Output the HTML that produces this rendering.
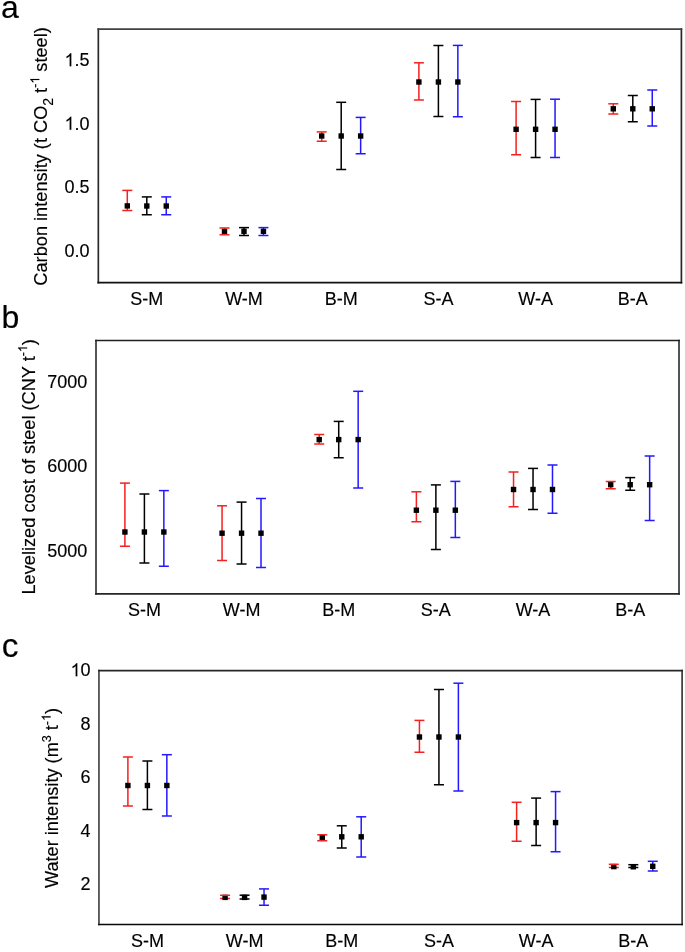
<!DOCTYPE html>
<html><head><meta charset="utf-8"><style>
html,body{margin:0;padding:0;background:#fff;width:685px;height:952px;overflow:hidden}
svg{display:block}
#w{will-change:transform}
.t{font-family:"Liberation Sans",sans-serif;font-size:18px;fill:#000;stroke:#000;stroke-width:0.15px}
.L{font-family:"Liberation Sans",sans-serif;font-size:32px;fill:#000;stroke:#000;stroke-width:0.15px}
.T{font-family:"Liberation Sans",sans-serif;font-size:18.2px;fill:#000;stroke:#000;stroke-width:0.15px}
.sub{font-size:14px}.sup{font-size:12.5px}
.o1{fill:none;stroke:none}
</style></head><body>
<div id="w"><svg width="685" height="952" viewBox="0 0 685 952">
<rect width="685" height="952" fill="#fff"/>
<path d="M98.33 28.25V283.45" stroke="#2a2a2a" stroke-width="1.7"/>
<path d="M681.40 28.25V283.45" stroke="#272727" stroke-width="1.7"/>
<path d="M97.48 29.10H682.25" stroke="#414141" stroke-width="1.7"/>
<path d="M97.48 282.60H682.25" stroke="#111111" stroke-width="1.7"/>
<path d="M127.30 190.40V210.50M122.30 210.50H132.30" stroke="#f52020" stroke-width="1.5" fill="none"/>
<path d="M146.80 196.90V214.70M141.80 214.70H151.80" stroke="#000000" stroke-width="1.5" fill="none"/>
<path d="M166.25 196.90V214.70M161.25 214.70H171.25" stroke="#2418ff" stroke-width="1.5" fill="none"/>
<text x="146.80" y="305.10" text-anchor="middle" class="t">S-M</text>
<path d="M224.50 228.00V234.70M219.50 234.70H229.50" stroke="#f52020" stroke-width="1.5" fill="none"/>
<path d="M244.00 227.60V235.40M239.00 235.40H249.00" stroke="#000000" stroke-width="1.5" fill="none"/>
<path d="M263.45 227.60V235.40M258.45 235.40H268.45" stroke="#2418ff" stroke-width="1.5" fill="none"/>
<text x="244.00" y="305.10" text-anchor="middle" class="t">W-M</text>
<path d="M321.70 131.90V141.30M316.70 141.30H326.70" stroke="#f52020" stroke-width="1.5" fill="none"/>
<path d="M341.20 102.30V169.50M336.20 169.50H346.20" stroke="#000000" stroke-width="1.5" fill="none"/>
<path d="M360.65 117.40V153.70M355.65 153.70H365.65" stroke="#2418ff" stroke-width="1.5" fill="none"/>
<text x="341.20" y="305.10" text-anchor="middle" class="t">B-M</text>
<path d="M418.90 62.80V100.10M413.90 100.10H423.90" stroke="#f52020" stroke-width="1.5" fill="none"/>
<path d="M438.40 45.50V116.50M433.40 116.50H443.40" stroke="#000000" stroke-width="1.5" fill="none"/>
<path d="M457.85 45.40V116.70M452.85 116.70H462.85" stroke="#2418ff" stroke-width="1.5" fill="none"/>
<text x="438.40" y="305.10" text-anchor="middle" class="t">S-A</text>
<path d="M516.10 101.50V154.70M511.10 154.70H521.10" stroke="#f52020" stroke-width="1.5" fill="none"/>
<path d="M535.60 99.40V157.40M530.60 157.40H540.60" stroke="#000000" stroke-width="1.5" fill="none"/>
<path d="M555.05 99.20V157.60M550.05 157.60H560.05" stroke="#2418ff" stroke-width="1.5" fill="none"/>
<text x="535.60" y="305.10" text-anchor="middle" class="t">W-A</text>
<path d="M613.30 103.80V114.00M608.30 114.00H618.30" stroke="#f52020" stroke-width="1.5" fill="none"/>
<path d="M632.80 95.50V121.70M627.80 121.70H637.80" stroke="#000000" stroke-width="1.5" fill="none"/>
<path d="M652.25 90.00V126.00M647.25 126.00H657.25" stroke="#2418ff" stroke-width="1.5" fill="none"/>
<text x="632.80" y="305.10" text-anchor="middle" class="t">B-A</text>
<rect x="124.60" y="203.20" width="5.4" height="5.4" fill="#000"/>
<rect x="144.10" y="203.30" width="5.4" height="5.4" fill="#000"/>
<rect x="163.55" y="203.30" width="5.4" height="5.4" fill="#000"/>
<rect x="221.80" y="228.60" width="5.4" height="5.4" fill="#000"/>
<rect x="241.30" y="228.60" width="5.4" height="5.4" fill="#000"/>
<rect x="260.75" y="228.60" width="5.4" height="5.4" fill="#000"/>
<rect x="319.00" y="133.30" width="5.4" height="5.4" fill="#000"/>
<rect x="338.50" y="133.30" width="5.4" height="5.4" fill="#000"/>
<rect x="357.95" y="133.30" width="5.4" height="5.4" fill="#000"/>
<rect x="416.20" y="79.30" width="5.4" height="5.4" fill="#000"/>
<rect x="435.70" y="79.30" width="5.4" height="5.4" fill="#000"/>
<rect x="455.15" y="79.30" width="5.4" height="5.4" fill="#000"/>
<rect x="513.40" y="126.60" width="5.4" height="5.4" fill="#000"/>
<rect x="532.90" y="126.60" width="5.4" height="5.4" fill="#000"/>
<rect x="552.35" y="126.60" width="5.4" height="5.4" fill="#000"/>
<rect x="610.60" y="106.10" width="5.4" height="5.4" fill="#000"/>
<rect x="630.10" y="106.10" width="5.4" height="5.4" fill="#000"/>
<rect x="649.55" y="106.10" width="5.4" height="5.4" fill="#000"/>
<path d="M122.30 190.40H132.30" stroke="#f52020" stroke-width="1.5"/>
<path d="M141.80 196.90H151.80" stroke="#000000" stroke-width="1.5"/>
<path d="M161.25 196.90H171.25" stroke="#2418ff" stroke-width="1.5"/>
<path d="M219.50 228.00H229.50" stroke="#f52020" stroke-width="1.5"/>
<path d="M239.00 227.60H249.00" stroke="#000000" stroke-width="1.5"/>
<path d="M258.45 227.60H268.45" stroke="#2418ff" stroke-width="1.5"/>
<path d="M316.70 131.90H326.70" stroke="#f52020" stroke-width="1.5"/>
<path d="M336.20 102.30H346.20" stroke="#000000" stroke-width="1.5"/>
<path d="M355.65 117.40H365.65" stroke="#2418ff" stroke-width="1.5"/>
<path d="M413.90 62.80H423.90" stroke="#f52020" stroke-width="1.5"/>
<path d="M433.40 45.50H443.40" stroke="#000000" stroke-width="1.5"/>
<path d="M452.85 45.40H462.85" stroke="#2418ff" stroke-width="1.5"/>
<path d="M511.10 101.50H521.10" stroke="#f52020" stroke-width="1.5"/>
<path d="M530.60 99.40H540.60" stroke="#000000" stroke-width="1.5"/>
<path d="M550.05 99.20H560.05" stroke="#2418ff" stroke-width="1.5"/>
<path d="M608.30 103.80H618.30" stroke="#f52020" stroke-width="1.5"/>
<path d="M627.80 95.50H637.80" stroke="#000000" stroke-width="1.5"/>
<path d="M647.25 90.00H657.25" stroke="#2418ff" stroke-width="1.5"/>
<path d="M96.00 339.65V594.65" stroke="#383838" stroke-width="1.7"/>
<path d="M679.00 339.65V594.65" stroke="#363636" stroke-width="1.7"/>
<path d="M95.15 340.50H679.85" stroke="#202020" stroke-width="1.7"/>
<path d="M95.15 593.80H679.85" stroke="#252525" stroke-width="1.7"/>
<path d="M124.90 483.10V546.20M119.90 546.20H129.90" stroke="#f52020" stroke-width="1.5" fill="none"/>
<path d="M144.40 494.00V563.00M139.40 563.00H149.40" stroke="#000000" stroke-width="1.5" fill="none"/>
<path d="M163.85 490.60V566.20M158.85 566.20H168.85" stroke="#2418ff" stroke-width="1.5" fill="none"/>
<text x="144.40" y="616.30" text-anchor="middle" class="t">S-M</text>
<path d="M222.06 505.80V560.40M217.06 560.40H227.06" stroke="#f52020" stroke-width="1.5" fill="none"/>
<path d="M241.56 502.10V563.90M236.56 563.90H246.56" stroke="#000000" stroke-width="1.5" fill="none"/>
<path d="M261.01 498.50V567.40M256.01 567.40H266.01" stroke="#2418ff" stroke-width="1.5" fill="none"/>
<text x="241.56" y="616.30" text-anchor="middle" class="t">W-M</text>
<path d="M319.22 434.50V444.10M314.22 444.10H324.22" stroke="#f52020" stroke-width="1.5" fill="none"/>
<path d="M338.72 421.40V457.80M333.72 457.80H343.72" stroke="#000000" stroke-width="1.5" fill="none"/>
<path d="M358.17 391.30V488.10M353.17 488.10H363.17" stroke="#2418ff" stroke-width="1.5" fill="none"/>
<text x="338.72" y="616.30" text-anchor="middle" class="t">B-M</text>
<path d="M416.38 491.80V521.80M411.38 521.80H421.38" stroke="#f52020" stroke-width="1.5" fill="none"/>
<path d="M435.88 484.90V549.60M430.88 549.60H440.88" stroke="#000000" stroke-width="1.5" fill="none"/>
<path d="M455.33 481.40V537.60M450.33 537.60H460.33" stroke="#2418ff" stroke-width="1.5" fill="none"/>
<text x="435.88" y="616.30" text-anchor="middle" class="t">S-A</text>
<path d="M513.54 472.00V506.70M508.54 506.70H518.54" stroke="#f52020" stroke-width="1.5" fill="none"/>
<path d="M533.04 468.40V509.50M528.04 509.50H538.04" stroke="#000000" stroke-width="1.5" fill="none"/>
<path d="M552.49 465.00V513.20M547.49 513.20H557.49" stroke="#2418ff" stroke-width="1.5" fill="none"/>
<text x="533.04" y="616.30" text-anchor="middle" class="t">W-A</text>
<path d="M610.70 481.50V488.70M605.70 488.70H615.70" stroke="#f52020" stroke-width="1.5" fill="none"/>
<path d="M630.20 477.60V490.20M625.20 490.20H635.20" stroke="#000000" stroke-width="1.5" fill="none"/>
<path d="M649.65 456.00V520.60M644.65 520.60H654.65" stroke="#2418ff" stroke-width="1.5" fill="none"/>
<text x="630.20" y="616.30" text-anchor="middle" class="t">B-A</text>
<rect x="122.20" y="529.30" width="5.4" height="5.4" fill="#000"/>
<rect x="141.70" y="529.30" width="5.4" height="5.4" fill="#000"/>
<rect x="161.15" y="529.30" width="5.4" height="5.4" fill="#000"/>
<rect x="219.36" y="530.50" width="5.4" height="5.4" fill="#000"/>
<rect x="238.86" y="530.50" width="5.4" height="5.4" fill="#000"/>
<rect x="258.31" y="530.50" width="5.4" height="5.4" fill="#000"/>
<rect x="316.52" y="436.90" width="5.4" height="5.4" fill="#000"/>
<rect x="336.02" y="436.90" width="5.4" height="5.4" fill="#000"/>
<rect x="355.47" y="436.90" width="5.4" height="5.4" fill="#000"/>
<rect x="413.68" y="507.50" width="5.4" height="5.4" fill="#000"/>
<rect x="433.18" y="507.50" width="5.4" height="5.4" fill="#000"/>
<rect x="452.63" y="507.50" width="5.4" height="5.4" fill="#000"/>
<rect x="510.84" y="486.80" width="5.4" height="5.4" fill="#000"/>
<rect x="530.34" y="486.80" width="5.4" height="5.4" fill="#000"/>
<rect x="549.79" y="486.80" width="5.4" height="5.4" fill="#000"/>
<rect x="608.00" y="482.00" width="5.4" height="5.4" fill="#000"/>
<rect x="627.50" y="482.00" width="5.4" height="5.4" fill="#000"/>
<rect x="646.95" y="482.00" width="5.4" height="5.4" fill="#000"/>
<path d="M119.90 483.10H129.90" stroke="#f52020" stroke-width="1.5"/>
<path d="M139.40 494.00H149.40" stroke="#000000" stroke-width="1.5"/>
<path d="M158.85 490.60H168.85" stroke="#2418ff" stroke-width="1.5"/>
<path d="M217.06 505.80H227.06" stroke="#f52020" stroke-width="1.5"/>
<path d="M236.56 502.10H246.56" stroke="#000000" stroke-width="1.5"/>
<path d="M256.01 498.50H266.01" stroke="#2418ff" stroke-width="1.5"/>
<path d="M314.22 434.50H324.22" stroke="#f52020" stroke-width="1.5"/>
<path d="M333.72 421.40H343.72" stroke="#000000" stroke-width="1.5"/>
<path d="M353.17 391.30H363.17" stroke="#2418ff" stroke-width="1.5"/>
<path d="M411.38 491.80H421.38" stroke="#f52020" stroke-width="1.5"/>
<path d="M430.88 484.90H440.88" stroke="#000000" stroke-width="1.5"/>
<path d="M450.33 481.40H460.33" stroke="#2418ff" stroke-width="1.5"/>
<path d="M508.54 472.00H518.54" stroke="#f52020" stroke-width="1.5"/>
<path d="M528.04 468.40H538.04" stroke="#000000" stroke-width="1.5"/>
<path d="M547.49 465.00H557.49" stroke="#2418ff" stroke-width="1.5"/>
<path d="M605.70 481.50H615.70" stroke="#f52020" stroke-width="1.5"/>
<path d="M625.20 477.60H635.20" stroke="#000000" stroke-width="1.5"/>
<path d="M644.65 456.00H654.65" stroke="#2418ff" stroke-width="1.5"/>
<path d="M98.95 669.70V925.35" stroke="#474747" stroke-width="1.7"/>
<path d="M682.10 669.70V925.35" stroke="#3a3a3a" stroke-width="1.7"/>
<path d="M98.10 670.55H682.95" stroke="#262626" stroke-width="1.7"/>
<path d="M98.10 924.50H682.95" stroke="#080808" stroke-width="1.7"/>
<path d="M127.90 757.00V806.10M122.90 806.10H132.90" stroke="#f52020" stroke-width="1.5" fill="none"/>
<path d="M147.40 761.00V809.50M142.40 809.50H152.40" stroke="#000000" stroke-width="1.5" fill="none"/>
<path d="M166.85 754.70V815.90M161.85 815.90H171.85" stroke="#2418ff" stroke-width="1.5" fill="none"/>
<text x="147.40" y="947.00" text-anchor="middle" class="t">S-M</text>
<path d="M225.08 895.30V898.60M220.08 898.60H230.08" stroke="#f52020" stroke-width="1.5" fill="none"/>
<path d="M244.58 895.20V899.05M239.58 899.05H249.58" stroke="#000000" stroke-width="1.5" fill="none"/>
<path d="M264.03 888.90V905.30M259.03 905.30H269.03" stroke="#2418ff" stroke-width="1.5" fill="none"/>
<text x="244.58" y="947.00" text-anchor="middle" class="t">W-M</text>
<path d="M322.26 834.80V840.80M317.26 840.80H327.26" stroke="#f52020" stroke-width="1.5" fill="none"/>
<path d="M341.76 825.80V847.90M336.76 847.90H346.76" stroke="#000000" stroke-width="1.5" fill="none"/>
<path d="M361.21 816.80V857.10M356.21 857.10H366.21" stroke="#2418ff" stroke-width="1.5" fill="none"/>
<text x="341.76" y="947.00" text-anchor="middle" class="t">B-M</text>
<path d="M419.44 720.40V752.30M414.44 752.30H424.44" stroke="#f52020" stroke-width="1.5" fill="none"/>
<path d="M438.94 689.50V784.70M433.94 784.70H443.94" stroke="#000000" stroke-width="1.5" fill="none"/>
<path d="M458.39 683.20V791.00M453.39 791.00H463.39" stroke="#2418ff" stroke-width="1.5" fill="none"/>
<text x="438.94" y="947.00" text-anchor="middle" class="t">S-A</text>
<path d="M516.62 802.30V841.30M511.62 841.30H521.62" stroke="#f52020" stroke-width="1.5" fill="none"/>
<path d="M536.12 798.10V845.50M531.12 845.50H541.12" stroke="#000000" stroke-width="1.5" fill="none"/>
<path d="M555.57 791.60V851.80M550.57 851.80H560.57" stroke="#2418ff" stroke-width="1.5" fill="none"/>
<text x="536.12" y="947.00" text-anchor="middle" class="t">W-A</text>
<path d="M613.80 864.30V867.50M608.80 867.50H618.80" stroke="#f52020" stroke-width="1.5" fill="none"/>
<path d="M633.30 864.70V867.60M628.30 867.60H638.30" stroke="#000000" stroke-width="1.5" fill="none"/>
<path d="M652.75 861.30V871.10M647.75 871.10H657.75" stroke="#2418ff" stroke-width="1.5" fill="none"/>
<text x="633.30" y="947.00" text-anchor="middle" class="t">B-A</text>
<rect x="125.20" y="782.80" width="5.4" height="5.4" fill="#000"/>
<rect x="144.70" y="782.80" width="5.4" height="5.4" fill="#000"/>
<rect x="164.15" y="782.80" width="5.4" height="5.4" fill="#000"/>
<rect x="222.38" y="894.70" width="5.4" height="5.4" fill="#000"/>
<rect x="241.88" y="894.70" width="5.4" height="5.4" fill="#000"/>
<rect x="261.33" y="894.40" width="5.4" height="5.4" fill="#000"/>
<rect x="319.56" y="834.60" width="5.4" height="5.4" fill="#000"/>
<rect x="339.06" y="834.10" width="5.4" height="5.4" fill="#000"/>
<rect x="358.51" y="834.10" width="5.4" height="5.4" fill="#000"/>
<rect x="416.74" y="734.30" width="5.4" height="5.4" fill="#000"/>
<rect x="436.24" y="734.30" width="5.4" height="5.4" fill="#000"/>
<rect x="455.69" y="734.30" width="5.4" height="5.4" fill="#000"/>
<rect x="513.92" y="819.90" width="5.4" height="5.4" fill="#000"/>
<rect x="533.42" y="819.90" width="5.4" height="5.4" fill="#000"/>
<rect x="552.87" y="819.90" width="5.4" height="5.4" fill="#000"/>
<rect x="611.10" y="863.90" width="5.4" height="5.4" fill="#000"/>
<rect x="630.60" y="864.10" width="5.4" height="5.4" fill="#000"/>
<rect x="650.05" y="863.60" width="5.4" height="5.4" fill="#000"/>
<path d="M122.90 757.00H132.90" stroke="#f52020" stroke-width="1.5"/>
<path d="M142.40 761.00H152.40" stroke="#000000" stroke-width="1.5"/>
<path d="M161.85 754.70H171.85" stroke="#2418ff" stroke-width="1.5"/>
<path d="M220.08 895.30H230.08" stroke="#f52020" stroke-width="1.5"/>
<path d="M239.58 895.20H249.58" stroke="#000000" stroke-width="1.5"/>
<path d="M259.03 888.90H269.03" stroke="#2418ff" stroke-width="1.5"/>
<path d="M317.26 834.80H327.26" stroke="#f52020" stroke-width="1.5"/>
<path d="M336.76 825.80H346.76" stroke="#000000" stroke-width="1.5"/>
<path d="M356.21 816.80H366.21" stroke="#2418ff" stroke-width="1.5"/>
<path d="M414.44 720.40H424.44" stroke="#f52020" stroke-width="1.5"/>
<path d="M433.94 689.50H443.94" stroke="#000000" stroke-width="1.5"/>
<path d="M453.39 683.20H463.39" stroke="#2418ff" stroke-width="1.5"/>
<path d="M511.62 802.30H521.62" stroke="#f52020" stroke-width="1.5"/>
<path d="M531.12 798.10H541.12" stroke="#000000" stroke-width="1.5"/>
<path d="M550.57 791.60H560.57" stroke="#2418ff" stroke-width="1.5"/>
<path d="M608.80 864.30H618.80" stroke="#f52020" stroke-width="1.5"/>
<path d="M628.30 864.70H638.30" stroke="#000000" stroke-width="1.5"/>
<path d="M647.75 861.30H657.75" stroke="#2418ff" stroke-width="1.5"/>
<text x="89.6" y="66.20" text-anchor="end" class="t"><tspan class="o1">1</tspan>.5</text>
<text x="89.6" y="129.70" text-anchor="end" class="t"><tspan class="o1">1</tspan>.0</text>
<text x="89.6" y="193.10" text-anchor="end" class="t">0.5</text>
<text x="89.6" y="256.50" text-anchor="end" class="t">0.0</text>
<text x="87.2" y="387.90" text-anchor="end" class="t">7000</text>
<text x="87.2" y="472.30" text-anchor="end" class="t">6000</text>
<text x="87.2" y="556.90" text-anchor="end" class="t">5000</text>
<text x="90.6" y="676.20" text-anchor="end" class="t"><tspan class="o1">1</tspan>0</text>
<text x="90.6" y="729.60" text-anchor="end" class="t">8</text>
<text x="90.6" y="783.20" text-anchor="end" class="t">6</text>
<text x="90.6" y="836.80" text-anchor="end" class="t">4</text>
<text x="90.6" y="890.00" text-anchor="end" class="t">2</text>
<text x="1" y="18.3" class="L">a</text>
<text x="1.5" y="327.7" class="L">b</text>
<text x="1.7" y="656.5" class="L" style="font-size:33.5px">c</text>
<g transform="translate(47,156.4) rotate(-90)"><text x="0" y="0" text-anchor="middle" class="T">Carbon intensity (t CO<tspan class="sub" dy="5.5">2</tspan><tspan dy="-5.5"> t</tspan><tspan class="sup" dy="-7.7">-<tspan class="o1">1</tspan></tspan><tspan dy="7.7"> steel)</tspan></text><path transform="translate(72.76,-7.70) scale(0.006104,-0.006104)" d="M763 0H583V1147Q518 1085 412.5 1023T223 930V1104Q374 1175 487 1276T647 1472H763V0Z" fill="#000" stroke="#000" stroke-width="24.6"/></g>
<g transform="translate(34.8,466.8) rotate(-90)"><text x="0" y="0" text-anchor="middle" class="T">Levelized cost of steel (CNY t<tspan class="sup" dy="-7.7">-<tspan class="o1">1</tspan></tspan><tspan dy="7.7">)</tspan></text><path transform="translate(114.70,-7.70) scale(0.006104,-0.006104)" d="M763 0H583V1147Q518 1085 412.5 1023T223 930V1104Q374 1175 487 1276T647 1472H763V0Z" fill="#000" stroke="#000" stroke-width="24.6"/></g>
<g transform="translate(58.3,798) rotate(-90)"><text x="0" y="0" text-anchor="middle" class="T">Water intensity (m<tspan class="sup" dy="-7.7">3</tspan><tspan dy="7.7"> t</tspan><tspan class="sup" dy="-7.7">-<tspan class="o1">1</tspan></tspan><tspan dy="7.7">)</tspan></text><path transform="translate(77.05,-7.70) scale(0.006104,-0.006104)" d="M763 0H583V1147Q518 1085 412.5 1023T223 930V1104Q374 1175 487 1276T647 1472H763V0Z" fill="#000" stroke="#000" stroke-width="24.6"/></g>
<path transform="translate(64.57,66.20) scale(0.008789,-0.008789)" d="M763 0H583V1147Q518 1085 412.5 1023T223 930V1104Q374 1175 487 1276T647 1472H763V0Z" fill="#000" stroke="#000" stroke-width="17.1"/><path transform="translate(64.57,129.70) scale(0.008789,-0.008789)" d="M763 0H583V1147Q518 1085 412.5 1023T223 930V1104Q374 1175 487 1276T647 1472H763V0Z" fill="#000" stroke="#000" stroke-width="17.1"/><path transform="translate(70.57,676.20) scale(0.008789,-0.008789)" d="M763 0H583V1147Q518 1085 412.5 1023T223 930V1104Q374 1175 487 1276T647 1472H763V0Z" fill="#000" stroke="#000" stroke-width="17.1"/>
</svg></div>
</body></html>
